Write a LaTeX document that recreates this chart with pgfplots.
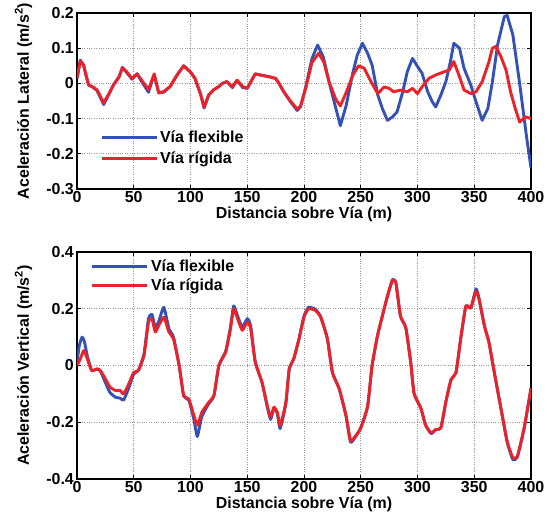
\documentclass[border=0pt]{standalone}
\usepackage{fontspec}
\setmainfont{Liberation Sans}
\usepackage{pgfplots}
\pgfplotsset{compat=1.18}

\definecolor{vflex}{RGB}{52,82,182}
\definecolor{vrig}{RGB}{236,34,40}

\pgfplotsset{
  viastyle/.style={
    scale only axis,
    xmin=0, xmax=400,
    xtick={0,50,...,400},
    grid=major,
    major grid style={dotted, gray!80, line width=0.8bp},
    axis line style={line width=1.1bp},
    tick style={black, line width=0.8bp},
    major tick length=4bp,
    /pgf/number format/assume math mode=true,
    tick label style={font=\fontsize{16}{18}\selectfont\bfseries},
    label style={font=\fontsize{16}{18}\selectfont\bfseries},
    xticklabel style={inner sep=2bp},
    yticklabel style={inner sep=3bp},
    xlabel={Distancia sobre Vía (m)},
    xlabel style={inner sep=1bp, yshift=-1bp},
    ylabel style={inner sep=1bp, yshift=10bp},
    legend cell align=left,
    legend style={draw=none, fill=none, font=\fontsize{16}{18}\selectfont\bfseries,
      row sep=4bp, inner xsep=0bp},
    legend image code/.code={\draw[#1, line width=3.2bp] (0,0) -- (55bp,0);},
  },
  flex/.style={vflex, line width=2.9bp, line join=round},
  rig/.style={vrig, line width=2.9bp, line join=round},
}

\begin{document}
\begin{tikzpicture}
\path[use as bounding box] (0,0) rectangle (547bp,520bp);

% lateral
\begin{axis}[viastyle,
  at={(77bp,507bp)}, anchor=north west,
  width=454bp, height=176bp,
  ymin=-0.3, ymax=0.2,
  ytick={-0.3,-0.2,...,0.2},
  ylabel={Aceleración Lateral (m/s$^{\mathbf 2}$)},
  legend style={at={(0.05,0.355)}, anchor=north west},
]
\addplot[flex] coordinates {
(0,0.014) (2.9,0.066) (5.9,0.052) (7.4,0.03) (10.3,-0.005) (13.2,-0.009) (17.6,-0.02)
(23.5,-0.06) (28,-0.032) (32,-0.005) (37,0.018) (40,0.045) (44,0.03) (48.5,0.012)
(53,0.027) (57,0.005) (63,-0.025) (68,0.025) (72,-0.027) (76.5,-0.025) (82,-0.009)
(88,0.023) (94,0.05) (100,0.032) (104,0.014) (109,-0.032) (112,-0.07) (116,-0.034)
(120.5,-0.018) (125,-0.009) (128,0) (132,0.005) (137,-0.012) (141,0.009) (146,-0.012)
(150,-0.014) (157,0.027) (163,0.023) (170.6,0.018) (175,0.014) (178,0) (182,-0.023)
(188,-0.052) (194,-0.077) (197,-0.066) (201.5,-0.01) (207,0.07) (212,0.109) (217,0.075)
(222,0.005) (228,-0.07) (232,-0.12) (237,-0.065) (243,0.03) (247,0.081) (251.5,0.114)
(256,0.086) (260,0.052) (265,-0.033) (269,-0.071) (273.5,-0.105) (278,-0.095)
(282,-0.081) (287,-0.024) (291,0.033) (295.6,0.071) (300,0.048) (304,0.029)
(309,-0.024) (313,-0.052) (316,-0.067) (320.6,-0.033) (325,0.005) (329,0.062)
(332,0.114) (337,0.1) (341,0.043) (347,-0.005) (351.5,-0.052) (357,-0.105)
(362,-0.071) (366,0.005) (370.6,0.11) (376.5,0.19) (379,0.193) (384,0.138)
(390,0.0) (396,-0.15) (400,-0.24)
};
\addlegendentry{Vía flexible}
\addplot[rig] coordinates {
(0,0.014) (2.9,0.064) (5.9,0.05) (7.4,0.03) (10.3,-0.005) (13.2,-0.009) (17.6,-0.018)
(23.5,-0.055) (28,-0.03) (32,-0.005) (37,0.018) (40,0.045) (44,0.032) (48.5,0.014)
(53,0.027) (57,0.009) (63,-0.018) (68,0.027) (72,-0.027) (76.5,-0.023) (82,-0.009)
(88,0.023) (94,0.05) (100,0.032) (104,0.014) (109,-0.032) (112,-0.068) (116,-0.032)
(120.5,-0.018) (125,-0.009) (128,0) (132,0.005) (137,-0.009) (141,0.009) (146,-0.009)
(150,-0.014) (157,0.027) (163,0.023) (170.6,0.018) (175,0.014) (178,0) (182,-0.023)
(188,-0.05) (194,-0.073) (197,-0.064) (201.5,-0.014) (207,0.059) (213,0.086)
(217.6,0.059) (222,0.005) (228,-0.045) (232,-0.064) (237,-0.027) (243,0.023)
(248,0.05) (253,0.043) (259,0.005) (265,-0.029) (270.6,-0.01) (275,-0.014)
(279,-0.024) (285,-0.019) (291,-0.024) (295.6,-0.014) (300,-0.029) (304,-0.01)
(310,0.014) (316,0.024) (323.5,0.033) (328,0.038) (332,0.062) (337,0.019)
(341,-0.019) (347,-0.029) (351.5,-0.024) (357,0.005) (363,0.062) (366,0.1)
(369,0.105) (373.5,0.076) (378,0.038) (382,-0.024) (386,-0.07) (390,-0.11)
(395,-0.095) (400,-0.10)
};
\addlegendentry{Vía rígida}
\end{axis}

% vertical
\begin{axis}[viastyle,
  at={(77bp,268bp)}, anchor=north west,
  width=454bp, height=227bp,
  ymin=-0.4, ymax=0.4,
  ytick={-0.4,-0.2,...,0.4},
  ylabel={Aceleración Vertical (m/s$^{\mathbf 2}$)},
  legend style={at={(0.03,0.985)}, anchor=north west, row sep=2bp},
]
\addplot[flex, smooth, tension=0.3] coordinates {
(0,0.01) (2,0.07) (4.5,0.1) (6.5,0.085) (9,0.035) (13,-0.018) (17.6,-0.012)
(20.6,-0.02) (25,-0.06) (29,-0.095) (34,-0.112) (38,-0.115) (41,-0.122) (45.6,-0.08)
(50,-0.03) (54,-0.018) (59,0.04) (63,0.165) (66,0.18) (69,0.135) (72,0.155)
(76.5,0.205) (81,0.13) (85,0.1) (90,0) (94,-0.108) (98.5,-0.122) (103,-0.19)
(106,-0.25) (110,-0.18) (116,-0.135) (120.6,-0.108) (125,0) (131,0.05) (135,0.13)
(138,0.21) (141,0.18) (145.6,0.135) (150,0.165) (153,0.14) (157,0.015) (163,-0.06)
(167.6,-0.145) (170.6,-0.19) (173.5,-0.15) (176.5,-0.17) (179,-0.222) (184,-0.135)
(187,-0.012) (191,0.024) (195.6,0.094) (200,0.175) (204,0.205) (210,0.198)
(214.7,0.172) (220.6,0.094) (225,-0.024) (231,-0.082) (237,-0.178) (241,-0.27)
(245.6,-0.25) (250,-0.22) (256,-0.145) (260,0) (264.7,0.104) (269,0.174)
(273.5,0.244) (278,0.303) (281,0.29) (285,0.174) (289.7,0.133) (294,0.012)
(297,-0.099) (303,-0.151) (307,-0.209) (312,-0.24) (316,-0.226) (320.6,-0.22)
(325,-0.128) (329.4,-0.052) (334,-0.023) (338,0.093) (342.6,0.209) (347,0.203)
(351.5,0.27) (354,0.24) (359,0.139) (363,0.081) (367.6,-0.023) (373.5,-0.151)
(379,-0.27) (384,-0.332) (388,-0.322) (394,-0.22) (400,-0.08)
};
\addlegendentry{Vía flexible}
\addplot[rig, smooth, tension=0.3] coordinates {
(0,0) (3,0.024) (6,0.053) (9,0.024) (13,-0.018) (17.6,-0.012) (20.6,-0.018)
(25,-0.047) (29,-0.076) (34,-0.088) (38,-0.088) (41,-0.1) (45.6,-0.065) (50,-0.024)
(54,-0.018) (59,0.035) (63,0.153) (66,0.165) (69,0.118) (72,0.141) (76.5,0.17)
(81,0.118) (85,0.094) (90,0) (94,-0.106) (98.5,-0.118) (103,-0.176) (106,-0.21)
(110,-0.165) (116,-0.13) (120.6,-0.106) (125,0) (131,0.047) (135,0.124) (138,0.2)
(141,0.17) (145.6,0.124) (150,0.153) (153,0.13) (157,0.012) (163,-0.059)
(167.6,-0.141) (170.6,-0.182) (173.5,-0.147) (176.5,-0.165) (179,-0.212) (184,-0.13)
(187,-0.012) (191,0.024) (195.6,0.094) (200,0.17) (204,0.2) (210,0.194) (214.7,0.17)
(220.6,0.094) (225,-0.024) (231,-0.082) (237,-0.176) (241,-0.265) (245.6,-0.247)
(250,-0.22) (256,-0.145) (260,0) (264.7,0.104) (269,0.174) (273.5,0.244) (278,0.30)
(281,0.29) (285,0.174) (289.7,0.133) (294,0.012) (297,-0.099) (303,-0.151)
(307,-0.209) (312,-0.238) (316,-0.226) (320.6,-0.22) (325,-0.128) (329.4,-0.052)
(334,-0.023) (338,0.093) (342.6,0.209) (347,0.203) (351.5,0.261) (354,0.238)
(359,0.139) (363,0.081) (367.6,-0.023) (373.5,-0.151) (379,-0.267) (384,-0.325)
(388,-0.32) (394,-0.22) (400,-0.08)
};
\addlegendentry{Vía rígida}
\end{axis}
\end{tikzpicture}
\end{document}
